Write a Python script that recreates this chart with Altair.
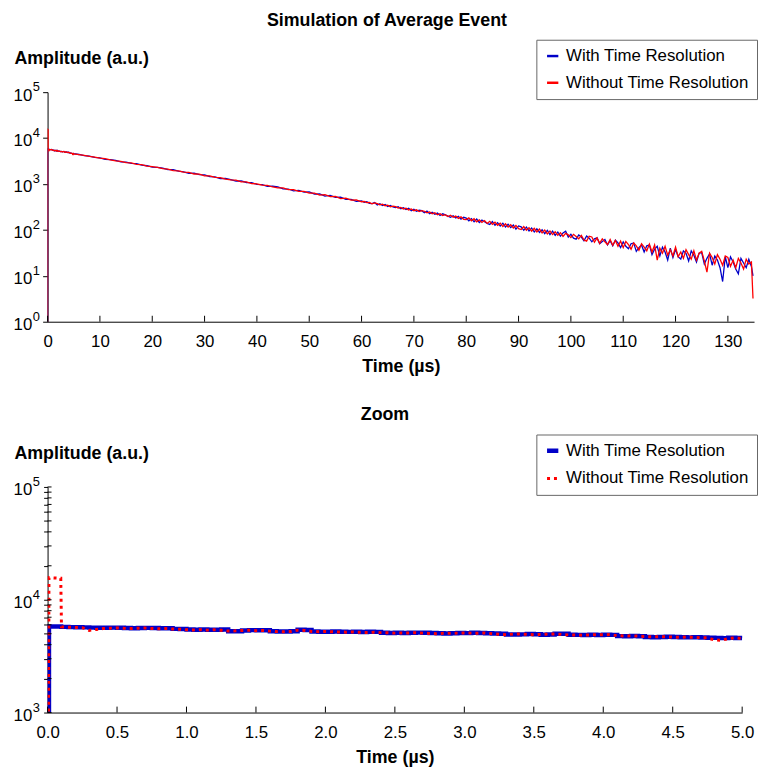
import altair as alt
import pandas as pd

FONT = "Liberation Sans"
SERIES = ["With Time Resolution", "Without Time Resolution"]
COLORS = ["#0000c8", "#ff0000"]

# ---- fine region 0 .. 5 us (time grid of the zoom) ----
t_fine = [0.0, 0.01, 0.05, 0.095] + [round(0.1 + 0.05 * i, 3) for i in range(99)]
blue_fine = [1, 5800, 5800, 5780,
             5750, 5720, 5700, 5690, 5660, 5650, 5640, 5660, 5640, 5620,
             5600, 5610, 5630, 5610, 5590, 5600, 5520, 5500, 5450, 5430,
             5440, 5420, 5430, 5440, 5260, 5250, 5330, 5380, 5370, 5360,
             5250, 5240, 5230, 5250, 5420, 5400, 5220, 5200, 5210, 5230,
             5210, 5190, 5200, 5180, 5200, 5190, 5100, 5080, 5090, 5070,
             5100, 5110, 5090, 5080, 5040, 5030, 5050, 5070, 5060, 5090,
             5070, 5040, 5020, 4990, 4920, 4910, 4930, 4980, 4950, 4900,
             4920, 4990, 5000, 4900, 4880, 4860, 4890, 4870, 4900, 4880,
             4760, 4750, 4770, 4750, 4670, 4650, 4680, 4690, 4680, 4660,
             4640, 4650, 4620, 4600, 4590, 4570, 4600, 4580, 4560]
red_fine = [1, 15700, 15600, 15500,
            5750, 5700, 5680, 5650, 5350, 5450, 5550, 5600, 5620, 5580,
            5560, 5600, 5620, 5560, 5540, 5560, 5500, 5480, 5420, 5400,
            5430, 5380, 5420, 5360, 5280, 5300, 5340, 5360, 5320, 5340,
            5270, 5220, 5200, 5230, 5380, 5350, 5240, 5210, 5230, 5200,
            5180, 5160, 5170, 5140, 5120, 5150, 5110, 5090, 5060, 5080,
            5070, 5100, 5060, 5030, 5000, 5050, 5040, 5060, 5080, 5060,
            5050, 5080, 5000, 4940, 4900, 4960, 4970, 4940, 4900, 4920,
            4960, 4980, 4930, 4880, 4870, 4850, 4870, 4900, 4890, 4920,
            4800, 4770, 4790, 4760, 4720, 4690, 4710, 4690, 4670, 4640,
            4670, 4650, 4610, 4600, 4400, 4370, 4520, 4600, 4520]

# ---- coarse region 6 .. 135 us ----
t_coarse = list(range(6, 60)) + [60 + 0.5 * i for i in range(150)] + [134.8]
blue_coarse = [4390, 4140, 4066, 3817, 3710, 3447, 3384, 3272, 3041, 2986,
               2802, 2764, 2582, 2497, 2331, 2312, 2203, 2046, 2050, 1896,
               1842, 1711, 1715, 1593, 1587, 1446, 1427, 1312, 1321, 1246,
               1152, 1165, 1078, 1074, 978, 970, 883, 894, 864, 779,
               777, 708, 726, 665, 673, 600, 605, 545, 563, 511,
               518, 463, 462, 418,
               430, 398, 412, 380, 372, 395, 349, 372, 340, 358,
               322, 341, 316, 306, 321, 290, 305, 278, 296, 262,
               280, 255, 270, 262, 236, 257, 226, 241, 219, 232,
               206, 224, 212, 199, 188, 204, 182, 197, 171, 188,
               181, 158, 176, 150, 172, 145, 163, 150, 139, 131,
               152, 126, 144, 121, 140, 116, 133, 112, 128, 104,
               122, 117, 98, 115, 95, 110, 90, 106, 88, 101,
               83, 98, 79, 94, 76, 90, 73, 86, 94, 70,
               80, 66, 63, 78, 70, 58, 74, 66, 55, 64,
               67, 50, 56, 62, 47, 58, 45, 60, 52, 41,
               55, 44, 39, 50, 52, 34, 41, 47, 33, 45,
               47, 29, 38, 44, 27, 42, 33, 22, 40, 25,
               38, 26, 23, 35, 31, 21, 35, 28, 20, 31,
               32, 18, 24, 30, 17, 27, 22, 15, 7.5, 26,
               15, 26, 20, 14, 11, 24, 19, 15, 23, 16,
               10]
red_coarse = [4350, 4210, 3980, 3860, 3650, 3550, 3340, 3190, 3120, 2920,
              2870, 2680, 2630, 2450, 2400, 2290, 2150, 2110, 1960, 1940,
              1810, 1790, 1650, 1640, 1510, 1500, 1390, 1380, 1270, 1230,
              1210, 1110, 1110, 1020, 1010, 940, 930, 860, 820, 820,
              750, 750, 690, 690, 630, 630, 575, 585, 530, 535,
              480, 490, 445, 450,
              410, 415, 392, 398, 371, 388, 372, 350, 362, 336,
              345, 318, 330, 322, 298, 310, 286, 298, 272, 285,
              262, 274, 250, 263, 255, 235, 247, 224, 236, 214,
              226, 205, 215, 196, 209, 188, 200, 178, 192, 170,
              168, 183, 158, 175, 150, 166, 145, 160, 138, 154,
              132, 147, 126, 140, 118, 136, 115, 130, 110, 125,
              106, 102, 118, 98, 112, 94, 108, 90, 104, 86,
              99, 82, 95, 79, 91, 76, 87, 72, 84, 78,
              68, 80, 72, 64, 76, 60, 57, 73, 70, 54,
              67, 51, 64, 55, 48, 62, 46, 59, 44, 57,
              41, 56, 48, 38, 52, 45, 36, 50, 42, 35,
              49, 33, 47, 22, 40, 31, 44, 28, 37, 27,
              42, 26, 33, 24, 37, 29, 23, 35, 22, 31,
              34, 21, 12, 31, 25, 18, 29, 23, 17, 27,
              25, 16, 22, 15, 24, 19, 14, 23, 18, 20,
              3.2]

top_x_ticks = [0, 10, 20, 30, 40, 50, 60, 70, 80, 90, 100, 110, 120, 130]
zoom_x_ticks = [0, 0.5, 1.0, 1.5, 2.0, 2.5, 3.0, 3.5, 4.0, 4.5, 5.0]
top_y_ticks = [1, 10, 100, 1000, 10000, 100000]
top_y_exps = ["0", "1", "2", "3", "4", "5"]
zoom_y_ticks = [1000, 2000, 3000, 4000, 5000, 6000, 7000, 8000, 9000,
                10000, 20000, 30000, 40000, 50000, 60000, 70000, 80000, 90000, 100000]
zoom_y_decades = [1000, 10000, 100000]
zoom_y_exps = ["3", "4", "5"]

TOP_W, TOP_H = 714, 232
ZOOM_W, ZOOM_H = 702, 228

t_all = t_fine + t_coarse
rows = []
for name, vals in ((SERIES[0], blue_fine + blue_coarse), (SERIES[1], red_fine + red_coarse)):
    for t, v in zip(t_all, vals):
        rows.append({"t": t, "amp": v, "series": name})
df = pd.DataFrame(rows)

dec_label = ("datum.value == 1 || datum.value == 10 || datum.value == 100 || "
             "datum.value == 1000 || datum.value == 10000 || datum.value == 100000 ? '10' : ''")


def y_axis(values, tick):
    return alt.Axis(values=values, labelExpr=dec_label, title="Amplitude (a.u.)",
                    titleAngle=0, titleAlign="left", titleBaseline="alphabetic",
                    titleX=-34, titleY=-29, titleFontSize=18, titleFontWeight="bold",
                    titleFont=FONT, titleColor="black", labelFont=FONT, labelFontSize=17,
                    labelColor="black", tickSize=tick, labelPadding=16 - tick,
                    labelOffset=3, grid=False, domainColor="black", tickColor="black",
                    labelOverlap=False)


def x_axis(values, fmt):
    return alt.Axis(values=values, format=fmt, title="Time (µs)", titleFontSize=18,
                    titleFontWeight="bold", titleFont=FONT, titleColor="black",
                    labelFont=FONT, labelFontSize=17, labelColor="black", tickSize=0,
                    labelPadding=12, titlePadding=8, grid=False, domainColor="black",
                    labelFlush=False)


def legend(**kw):
    return alt.Legend(title=None, orient="none", legendX=494, legendY=-53,
                      strokeColor="#666666", fillColor="white", padding=8,
                      labelFontSize=17, labelFont=FONT, labelColor="black",
                      symbolType="stroke", symbolSize=130, rowPadding=9,
                      labelOffset=5, labelLimit=300, **kw)


color_scale = alt.Scale(domain=SERIES, range=COLORS)
top_xs = alt.Scale(domain=[0, 135], nice=False, zero=False)
top_ys = alt.Scale(type="log", domain=[1, 100000], nice=False)
zoom_xs = alt.Scale(domain=[0, 5], nice=False, zero=False)
zoom_ys = alt.Scale(type="log", domain=[1000, 100000], nice=False)

top_xaxis = x_axis(top_x_ticks, "d")
top_yaxis = y_axis(top_y_ticks, 5)
zoom_xaxis = x_axis(zoom_x_ticks, ".1f")
zoom_yaxis = y_axis(zoom_y_ticks, 4)

# ---------------- top panel ----------------
top_lines = alt.Chart(df).mark_line(strokeWidth=1.3, clip=True).encode(
    x=alt.X("t:Q", scale=top_xs, axis=top_xaxis),
    y=alt.Y("amp:Q", scale=top_ys, axis=top_yaxis),
    color=alt.Color("series:N", scale=color_scale, legend=legend(symbolStrokeWidth=2.5)),
)
top_xtick = alt.Chart(pd.DataFrame({"t": top_x_ticks})).mark_rule(
    color="black", strokeWidth=1).encode(
    x=alt.X("t:Q", scale=top_xs, axis=top_xaxis),
    y=alt.value(TOP_H), y2=alt.value(TOP_H - 6))
top_exp = alt.Chart(pd.DataFrame({"amp": top_y_ticks, "e": top_y_exps})).mark_text(
    align="left", baseline="alphabetic", fontSize=13, font=FONT, color="black", dy=-1).encode(
    x=alt.value(-15), y=alt.Y("amp:Q", scale=top_ys, axis=top_yaxis), text="e:N")

top = alt.layer(top_lines, top_xtick, top_exp).properties(
    width=TOP_W, height=TOP_H,
    title=alt.TitleParams("Simulation of Average Event", fontSize=18, fontWeight="bold",
                          font=FONT, color="black", dx=-14, offset=9),
)

# ---------------- zoom panel ----------------
zbase = alt.Chart(df).transform_filter("datum.t <= 5.001")
zx = alt.X("t:Q", scale=zoom_xs, axis=zoom_xaxis)
zy = alt.Y("amp:Q", scale=zoom_ys, axis=zoom_yaxis)
zlegend = legend()
zcolor = alt.Color("series:N", scale=color_scale, legend=zlegend)
zdash = alt.StrokeDash("series:N", scale=alt.Scale(domain=SERIES, range=[[1, 0], [3, 4]]),
                       legend=zlegend)
zwidth = alt.StrokeWidth("series:N", scale=alt.Scale(domain=SERIES, range=[4.5, 3]),
                         legend=zlegend)

zblue = zbase.transform_filter(alt.datum.series == SERIES[0]).mark_line(
    interpolate="step-after", clip=True).encode(x=zx, y=zy, color=zcolor,
                                                strokeDash=zdash, strokeWidth=zwidth)
zred = zbase.transform_filter(alt.datum.series == SERIES[1]).mark_line(
    clip=True).encode(x=zx, y=zy, color=zcolor, strokeDash=zdash, strokeWidth=zwidth)
z_xtick = alt.Chart(pd.DataFrame({"t": zoom_x_ticks})).mark_rule(
    color="black", strokeWidth=1).encode(
    x=alt.X("t:Q", scale=zoom_xs, axis=zoom_xaxis),
    y=alt.value(ZOOM_H), y2=alt.value(ZOOM_H - 6))
z_ytick = alt.Chart(pd.DataFrame({"amp": zoom_y_ticks})).mark_rule(
    color="black", strokeWidth=1).encode(
    y=alt.Y("amp:Q", scale=zoom_ys, axis=zoom_yaxis),
    x=alt.value(0), x2=alt.value(4))
z_exp = alt.Chart(pd.DataFrame({"amp": zoom_y_decades, "e": zoom_y_exps})).mark_text(
    align="left", baseline="alphabetic", fontSize=13, font=FONT, color="black", dy=-1).encode(
    x=alt.value(-15), y=alt.Y("amp:Q", scale=zoom_ys, axis=zoom_yaxis), text="e:N")

bottom = alt.layer(zblue, zred, z_xtick, z_ytick, z_exp).properties(
    width=ZOOM_W, height=ZOOM_H,
    title=alt.TitleParams("Zoom", fontSize=18, fontWeight="bold", font=FONT,
                          color="black", dx=-10, offset=10),
)

chart = alt.vconcat(top, bottom, spacing=31).resolve_scale(
    x="independent", y="independent", color="independent",
    strokeDash="independent", strokeWidth="independent"
).resolve_legend(
    color="independent", strokeDash="independent", strokeWidth="independent"
).properties(
    padding={"left": 5, "top": 0, "right": 0, "bottom": 0}
).configure(background="white").configure_view(strokeWidth=0, stroke="transparent")

chart.save("out.html", embed_options={"renderer": "svg", "actions": False})
